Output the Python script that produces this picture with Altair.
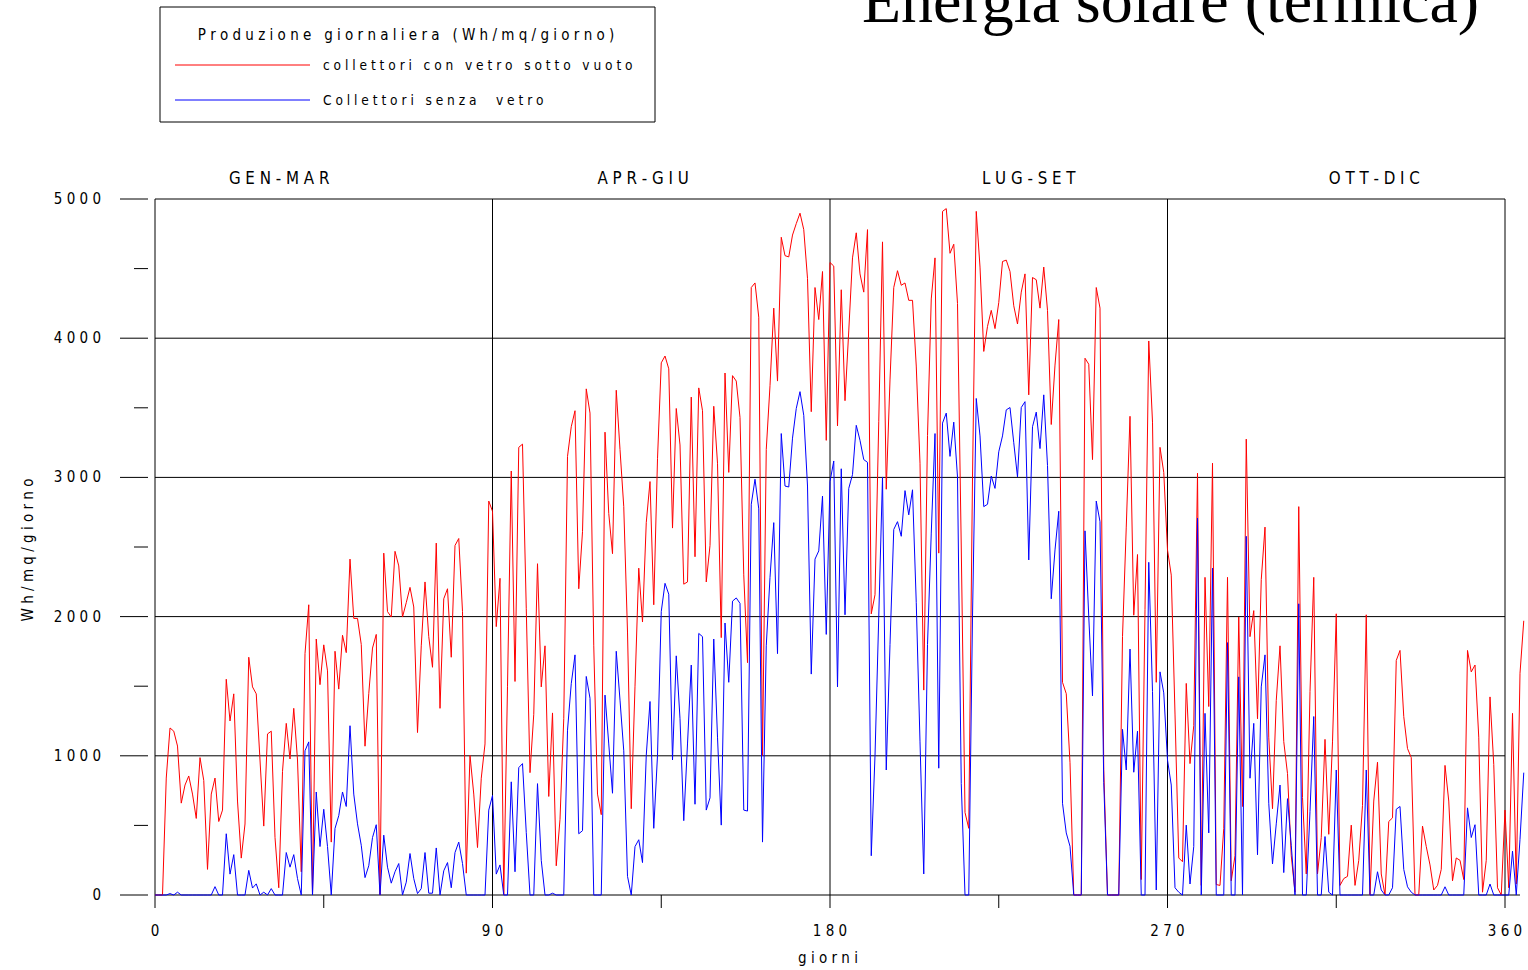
import altair as alt
import pandas as pd

# Daily thermal yield (Wh/mq/giorno), days 0..365
red_vals = [
    0, 0, 0, 840, 1200, 1177, 1070, 660, 790, 855,
    725, 550, 987, 823, 184, 725, 840, 528, 610, 1550,
    1250, 1445, 675, 265, 510, 1708, 1495, 1445, 970, 495,
    1157, 1177, 413, 52, 888, 1233, 977, 1341, 970, 167,
    1734, 2085, 0, 1839, 1511, 1797, 1610, 380, 1751, 1479,
    1866, 1741, 2413, 1987, 1987, 1800, 1069, 1446, 1774, 1872,
    0, 2456, 2036, 1997, 2469, 2364, 1997, 2100, 2210, 2069,
    1167, 1790, 2249, 1856, 1636, 2528, 1341, 2128, 2200, 1708,
    2511, 2561, 2036, 157, 1003, 725, 341, 839, 1085, 2830,
    2757, 1928, 2275, 0, 1500, 3046, 1534, 3216, 3239, 2060,
    879, 1298, 2380, 1495, 1790, 708, 1308, 210, 544, 1266,
    3151, 3364, 3479, 2200, 2610, 3636, 3462, 1790, 725, 577,
    3325, 2741, 2452, 3626, 3200, 2790, 1889, 620, 1500, 2348,
    1961, 2675, 2970, 2085, 3134, 3823, 3872, 3780, 2636, 3495,
    3233, 2233, 2249, 3577, 2430, 3643, 3479, 2249, 2511, 3511,
    3102, 1849, 3750, 3036, 3731, 3692, 3430, 2300, 1669, 4364,
    4397, 4151, 1003, 3200, 3659, 4216, 3692, 4725, 4593, 4584,
    4741, 4823, 4898, 4780, 4430, 3472, 4364, 4134, 4479, 3266,
    4544, 4518, 3370, 4348, 3551, 4052, 4577, 4757, 4462, 4331,
    4780, 2020, 2157, 3400, 4692, 2915, 3700, 4364, 4485, 4380,
    4397, 4272, 4272, 3800, 3102, 1472, 3300, 4282, 4577, 2456,
    4911, 4931, 4610, 4675, 4249, 2500, 593, 479, 3000, 4911,
    4511, 3905, 4085, 4200, 4069, 4256, 4551, 4561, 4479, 4233,
    4102, 4331, 4462, 3593, 4436, 4420, 4216, 4511, 4200, 3380,
    3807, 4134, 1528, 1446, 950, 0, 0, 0, 3856, 3813,
    3128, 4364, 4216, 900, 0, 0, 0, 0, 1856, 2643,
    3439, 2010, 2446, 111, 2050, 3980, 3397, 1528, 3216, 3036,
    2479, 2298, 1300, 266, 239, 1520, 944, 1216, 3030, 69,
    2282, 1354, 3102, 75, 69, 479, 2282, 102, 282, 1997,
    636, 3275, 1856, 2043, 1266, 2266, 2643, 1134, 620, 1397,
    1790, 1102, 872, 282, 20, 2790, 700, 151, 1462, 2282,
    151, 413, 1118, 436, 1100, 2020, 69, 118, 134, 502,
    69, 249, 643, 2013, 0, 675, 954, 151, 0, 528,
    554, 1685, 1757, 1282, 1052, 987, 0, 0, 495, 348,
    216, 36, 69, 184, 931, 675, 102, 266, 249, 111,
    1757, 1603, 1652, 1134, 20, 249, 1423, 938, 52, 0,
    610, 52, 1305, 79, 1593, 1970,
]

blue_vals = [
    0, 0, 0, 0, 10, 0, 20, 0, 0, 0,
    0, 0, 0, 0, 0, 0, 60, 0, 0, 440,
    150, 290, 0, 0, 0, 177, 50, 80, 0, 20,
    0, 46, 0, 0, 0, 305, 200, 290, 118, 0,
    1036, 1100, 0, 740, 348, 616, 348, 0, 478, 570,
    740, 636, 1216, 725, 511, 357, 125, 210, 413, 505,
    0, 430, 200, 85, 167, 226, 0, 92, 298, 118,
    10, 46, 305, 13, 13, 338, 0, 174, 233, 52,
    305, 380, 226, 0, 0, 0, 0, 0, 0, 610,
    715, 150, 216, 0, 0, 813, 167, 915, 944, 450,
    0, 0, 800, 249, 0, 0, 13, 0, 0, 0,
    1184, 1518, 1725, 440, 462, 1570, 1413, 0, 0, 0,
    1436, 1085, 731, 1751, 1400, 1036, 134, 0, 348, 397,
    233, 1003, 1390, 479, 1003, 2036, 2239, 2161, 970, 1718,
    1266, 534, 1085, 1652, 652, 1879, 1856, 610, 698, 1839,
    1134, 502, 1954, 1528, 2111, 2134, 2095, 610, 603, 2807,
    2987, 2774, 380, 1790, 2282, 2675, 1734, 3315, 2938, 2931,
    3282, 3495, 3616, 3446, 2938, 1587, 2413, 2472, 2866, 1872,
    2970, 3118, 1495, 3062, 2013, 2921, 3020, 3374, 3266, 3128,
    3108, 282, 1000, 2000, 3003, 898, 1800, 2626, 2682, 2577,
    2905, 2731, 2911, 2100, 1100, 151, 1800, 2600, 3315, 911,
    3390, 3462, 3151, 3397, 3003, 800, 0, 0, 2000, 3567,
    3298, 2790, 2807, 3010, 2921, 3184, 3298, 3485, 3502, 3249,
    3003, 3502, 3544, 2407, 3364, 3469, 3207, 3593, 3085, 2128,
    2479, 2757, 659, 446, 350, 0, 0, 0, 2616, 2000,
    1430, 2830, 2682, 807, 0, 0, 0, 0, 1190, 898,
    1767, 882, 1177, 0, 0, 2390, 1462, 36, 1603, 1452,
    970, 790, 52, 20, 0, 502, 79, 348, 2708, 0,
    1305, 446, 2348, 0, 0, 0, 1813, 0, 0, 1567,
    0, 2577, 839, 1233, 289, 1495, 1725, 659, 223, 511,
    790, 161, 692, 357, 0, 2092, 0, 0, 600, 1282,
    0, 0, 420, 20, 0, 898, 0, 0, 0, 0,
    0, 0, 0, 898, 0, 0, 167, 36, 0, 0,
    52, 616, 636, 184, 59, 20, 0, 0, 0, 0,
    0, 0, 0, 0, 59, 0, 0, 0, 0, 0,
    626, 413, 505, 0, 0, 0, 79, 0, 0, 0,
    0, 0, 315, 0, 400, 879,
]

days = list(range(len(red_vals)))

x_tick_days = [0, 45, 90, 135, 180, 225, 270, 315, 360]
x_label_days = [0, 90, 180, 270, 360]
y_major = [0, 1000, 2000, 3000, 4000, 5000]
y_minor = [500, 1500, 2500, 3500, 4500]
quarter_names = ["GEN-MAR", "APR-GIU", "LUG-SET", "OTT-DIC"]
quarter_start = [19.7, 118, 220.5, 313]
legend_title = "Produzione giornaliera (Wh/mq/giorno)"
series_names = ["collettori con vetro sotto vuoto", "Collettori senza  vetro"]
series_colors = ["#ff0000", "#0000ff"]
chart_title = "Energia solare (termica)"
x_title = "giorni"
y_title = "Wh/mq/giorno"

FONT = "Liberation Sans Narrow, DejaVu Sans Condensed, Liberation Sans, sans-serif"
W, H = 1350, 696
xs = alt.Scale(domain=[0, 360], nice=False, zero=False)
ys = alt.Scale(domain=[0, 5000], nice=False)


def spaced(s):
    return "\u00a0".join(s.replace(" ", "\u00a0"))


def X(f):
    return alt.X(f, type="quantitative", scale=xs, axis=None)


def Y(f):
    return alt.Y(f, type="quantitative", scale=ys, axis=None)


def label(text, x, y, size=15, align="left", baseline="middle", font=FONT, angle=0):
    kw = dict(fontSize=size, font=font, align=align, baseline=baseline, color="black")
    if angle:
        kw["angle"] = angle
    return alt.Chart(pd.DataFrame({"t": [text]})).mark_text(**kw).encode(
        text="t:N", x=alt.value(x), y=alt.value(y)
    )


series = pd.DataFrame({"day": days, "red": red_vals, "blue": blue_vals})

# grid + frame
hgrid = pd.DataFrame({"y": [1000, 2000, 3000, 4000, 5000], "x0": 0, "x1": 360})
grid_h = alt.Chart(hgrid).mark_rule(color="black", strokeWidth=1).encode(
    x=X("x0"), x2="x1", y=Y("y")
)
base_line = alt.Chart(pd.DataFrame({"y": [0], "x0": [0], "x1": [364]})).mark_rule(
    color="black", strokeWidth=1
).encode(x=X("x0"), x2="x1", y=Y("y"))
vgrid = pd.DataFrame({"x": [0, 90, 180, 270, 360], "y0": 0, "y1": 5000})
grid_v = alt.Chart(vgrid).mark_rule(color="black", strokeWidth=1).encode(
    x=X("x"), y=Y("y0"), y2="y1"
)

# x axis ticks and labels
xt = alt.Chart(pd.DataFrame({"x": x_tick_days})).mark_rule(color="black").encode(
    x=X("x"), y=alt.value(H), y2=alt.value(H + 13)
)
xl = alt.Chart(
    pd.DataFrame({"x": x_label_days, "t": [spaced(str(v)) for v in x_label_days]})
).mark_text(font=FONT, fontSize=15, align="center", baseline="middle").encode(
    x=X("x"), y=alt.value(H + 36), text="t:N"
)

# y axis ticks and labels
ytm = alt.Chart(pd.DataFrame({"y": y_major})).mark_rule(color="black").encode(
    y=Y("y"), x=alt.value(-35), x2=alt.value(-7)
)
ytn = alt.Chart(pd.DataFrame({"y": y_minor})).mark_rule(color="black").encode(
    y=Y("y"), x=alt.value(-21), x2=alt.value(-7)
)
yl = alt.Chart(
    pd.DataFrame({"y": y_major, "t": [spaced(str(v)) for v in y_major]})
).mark_text(font=FONT, fontSize=15, align="right", baseline="middle").encode(
    y=Y("y"), x=alt.value(-54), text="t:N"
)

# quarter headings
ql = alt.Chart(
    pd.DataFrame({"x": quarter_start, "t": [spaced(q) for q in quarter_names]})
).mark_text(font=FONT, fontSize=16.8, align="left", baseline="middle").encode(
    x=X("x"), y=alt.value(-20), text="t:N"
)

# data lines
red_line = alt.Chart(series).mark_line(color=series_colors[0], strokeWidth=1).encode(
    x=X("day"), y=Y("red")
)
blue_line = alt.Chart(series).mark_line(color=series_colors[1], strokeWidth=1).encode(
    x=X("day"), y=Y("blue")
)

# legend box
one = pd.DataFrame({"a": [0]})
leg_box = alt.Chart(one).mark_rect(fill="white", stroke="black", strokeWidth=1).encode(
    x=alt.value(5), x2=alt.value(500), y=alt.value(-192), y2=alt.value(-77)
)
leg_red = alt.Chart(one).mark_rule(color=series_colors[0]).encode(
    x=alt.value(20), x2=alt.value(155), y=alt.value(-134)
)
leg_blue = alt.Chart(one).mark_rule(color=series_colors[1]).encode(
    x=alt.value(20), x2=alt.value(155), y=alt.value(-99)
)

layers = [
    grid_h, grid_v, base_line, xt, xl, ytm, ytn, yl, ql,
    red_line, blue_line,
    leg_box, leg_red, leg_blue,
    label(spaced(legend_title), 251, -164, align="center"),
    label(spaced(series_names[0]), 168, -133, size=13.6),
    label(spaced(series_names[1]), 168, -98, size=13.6),
    label(chart_title, 707, -177, size=64, baseline="alphabetic",
          font="Liberation Serif, Times New Roman, serif"),
    label(spaced(x_title), 673, 759, align="center"),
    label(spaced(y_title), -127, 351, align="center", angle=270),
]

chart = alt.layer(*layers).properties(
    width=W,
    height=H,
    padding={"left": 155, "top": 199, "right": 23, "bottom": 75},
    autosize=alt.AutoSizeParams(type="none"),
    background="white",
).configure_view(strokeWidth=0)

chart.save("out.html", embed_options={"renderer": "svg", "actions": False})
